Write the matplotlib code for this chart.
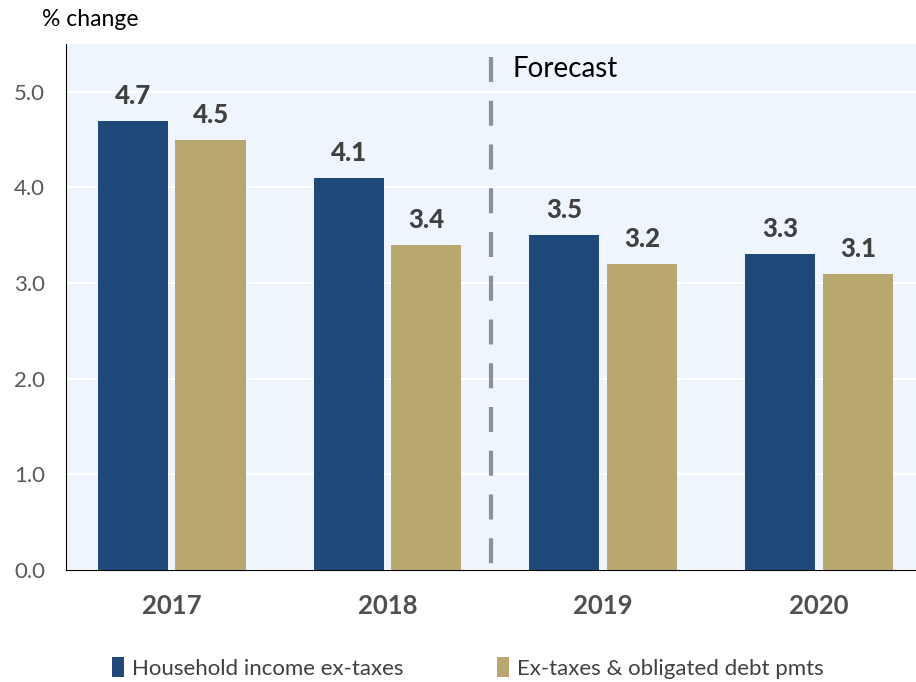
import matplotlib.pyplot as plt
import numpy as np

plt.rcParams['font.family'] = ['Lato', 'DejaVu Sans']

years = ['2017', '2018', '2019', '2020']
income_ex_taxes = [4.7, 4.1, 3.5, 3.3]
ex_taxes_debt = [4.5, 3.4, 3.2, 3.1]
series_names = ['Household income ex-taxes', 'Ex-taxes & obligated debt pmts']

BLUE = '#1F487B'
GOLD = '#B8A870'
BG = '#EEF5FD'
LABEL_GRAY = '#404040'

fig = plt.figure(figsize=(9.16, 6.82), dpi=100)
ax = fig.add_axes([66 / 916, 1 - 570 / 682, 850 / 916, 526 / 682])
ax.set_facecolor(BG)

x = np.arange(len(years))
width = 0.325
offset = 0.18
b1 = ax.bar(x - offset, income_ex_taxes, width, color=BLUE, label=series_names[0], zorder=3)
b2 = ax.bar(x + offset, ex_taxes_debt, width, color=GOLD, label=series_names[1], zorder=3)

for bars, vals in ((b1, income_ex_taxes), (b2, ex_taxes_debt)):
    for rect, v in zip(bars, vals):
        ax.annotate(f'{v:.1f}', (rect.get_x() + rect.get_width() / 2, v),
                    xytext=(0, 18), textcoords='offset points', ha='center', va='center',
                    fontsize=18.5, fontweight='black', color=LABEL_GRAY, zorder=4)

ax.set_ylim(0, 5.5)
ax.set_xlim(-0.49, 3.45)
ticks = np.arange(0, 6, 1.0)
ax.set_yticks(ticks)
ax.set_yticklabels([f'{t:.1f}' for t in ticks], fontsize=16, color='#595959')
ax.set_xticks(x)
ax.set_xticklabels(years, fontsize=18.5, fontweight='bold', color='#505050')
ax.tick_params(axis='both', length=0)
ax.tick_params(axis='x', pad=17)
ax.tick_params(axis='y', pad=15)
ax.yaxis.grid(True, color='white', linewidth=1.5, zorder=1)
ax.set_axisbelow(True)
for side in ('top', 'right'):
    ax.spines[side].set_visible(False)
ax.spines['left'].set_color('black')
ax.spines['bottom'].set_color('black')

# forecast divider
ax.plot([1.48, 1.48], [5.36, -0.05], color='#8C9199', linewidth=3,
        linestyle=(0, (6, 4.5)), zorder=5, clip_on=False)
ax.text(1.58, 5.24, 'Forecast', fontsize=20, color='black', ha='left', va='center')

fig.text(42 / 916, 1 - 20 / 682, '% change', fontsize=16.5, ha='left', va='center')

fig.legend(handles=[b1, b2], loc='center left', bbox_to_anchor=(92 / 916, 1 - 668 / 682),
           ncol=2, frameon=False, fontsize=16, handlelength=0.55, handleheight=1.0,
           handletextpad=0.35, columnspacing=4.2, labelcolor='#404040')

fig.savefig('out.png', dpi=100)
